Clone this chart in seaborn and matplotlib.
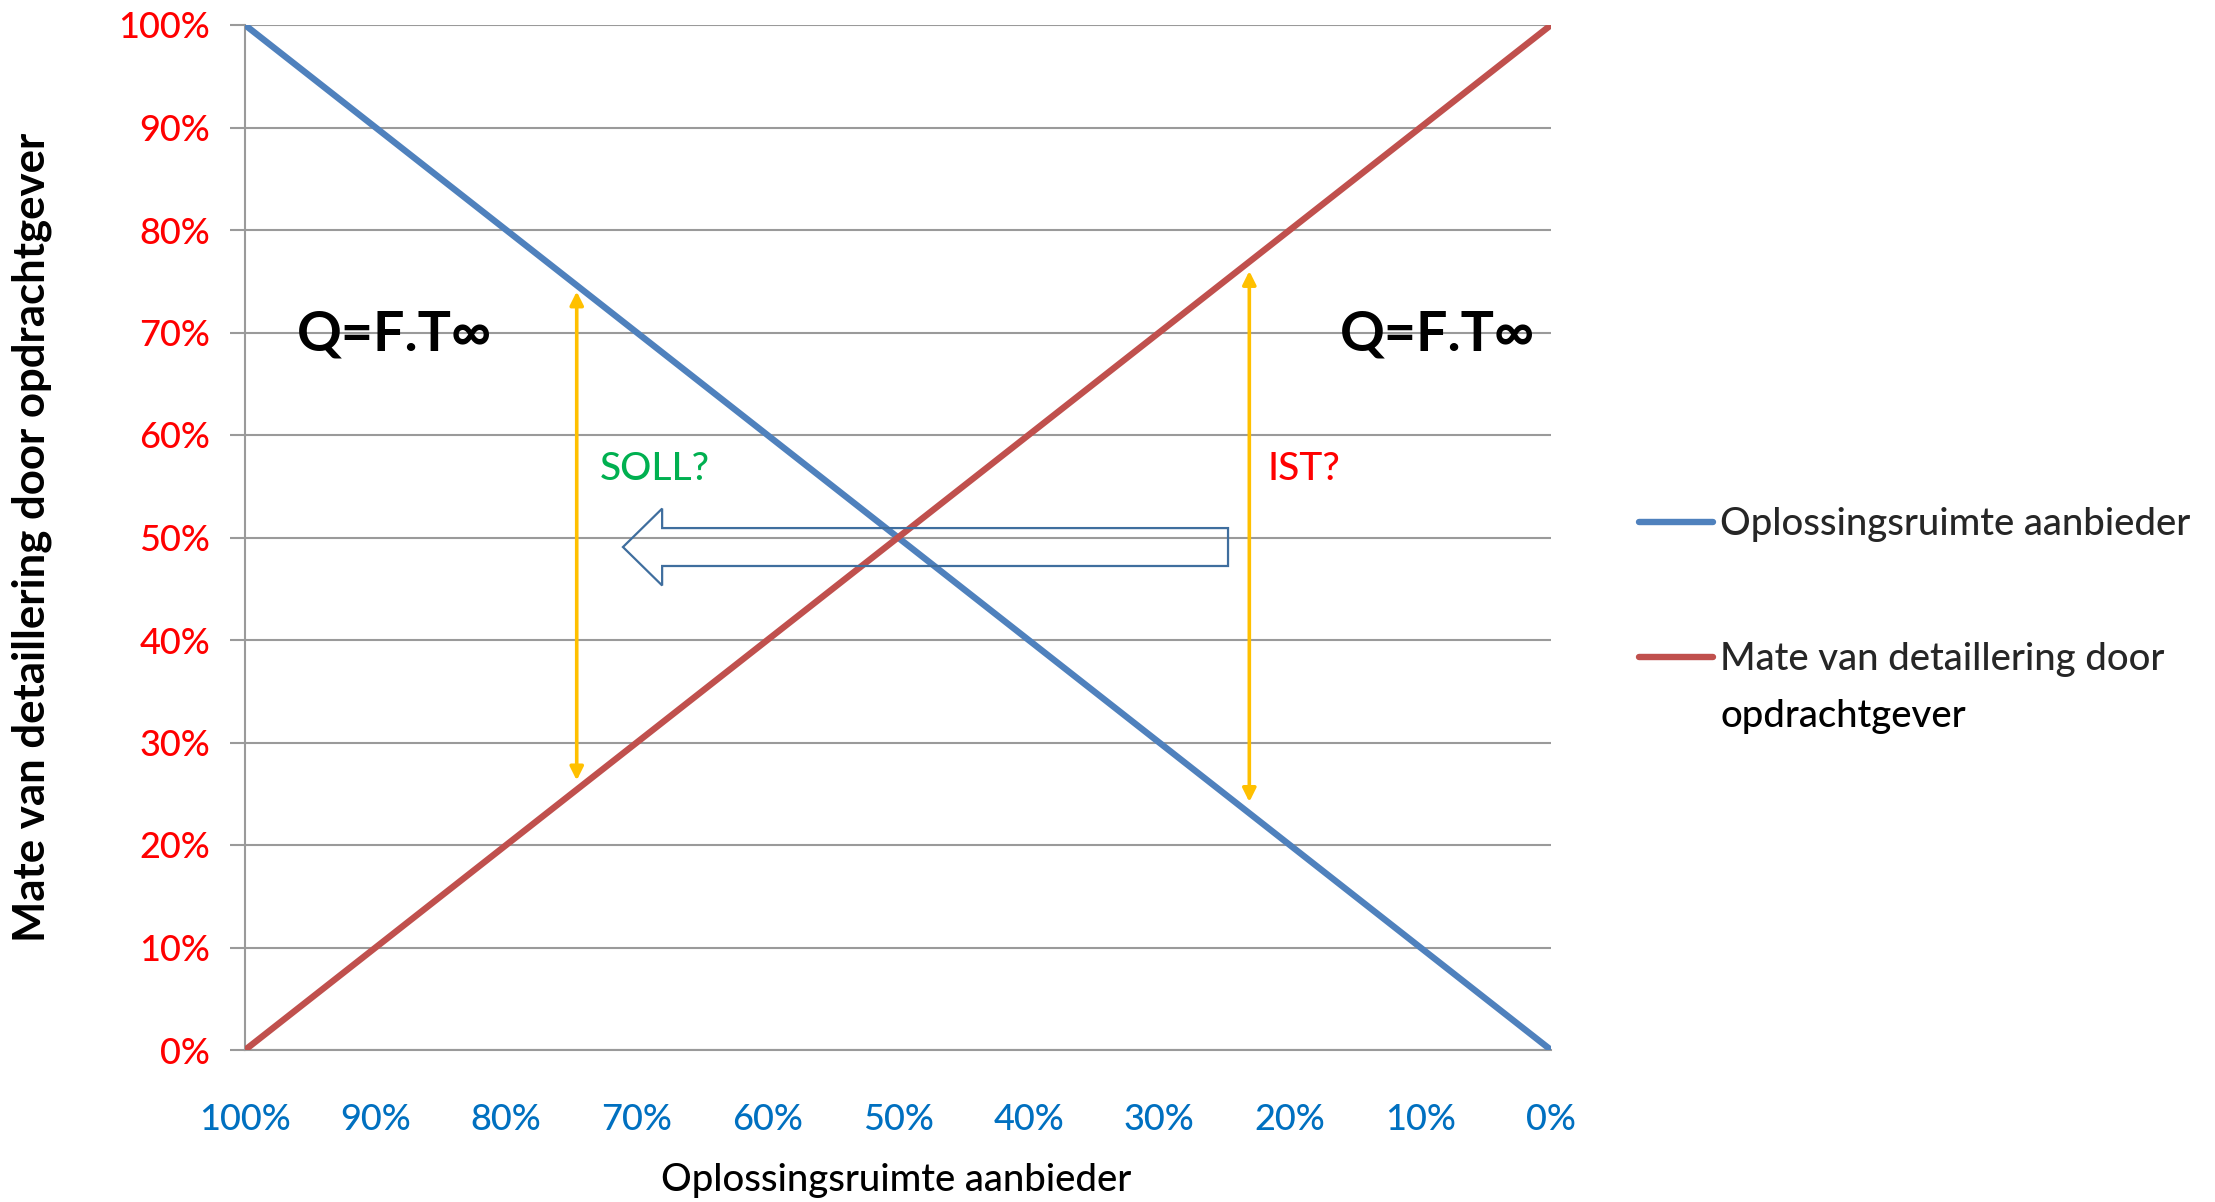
import matplotlib
matplotlib.use("Agg")
import matplotlib.pyplot as plt
from matplotlib.patches import FancyArrow
import pandas as pd
import seaborn as sns

# Categories on the horizontal axis (solution space of the supplier)
categories = ["100%", "90%", "80%", "70%", "60%", "50%", "40%", "30%", "20%", "10%", "0%"]
# Series values in percent
oplossingsruimte = [100, 90, 80, 70, 60, 50, 40, 30, 20, 10, 0]
detaillering = [0, 10, 20, 30, 40, 50, 60, 70, 80, 90, 100]
series_names = ["Oplossingsruimte aanbieder", "Mate van detaillering door opdrachtgever"]
legend_lines = [["Oplossingsruimte aanbieder"], ["Mate van detaillering door", "opdrachtgever"]]
y_ticks = [0, 10, 20, 30, 40, 50, 60, 70, 80, 90, 100]

# Annotation ranges (category position, percent)
soll_range = (2.54, 26.3, 74.0)
ist_range = (7.69, 24.2, 76.0)

sns.set_theme(style="white")
plt.rcParams["font.family"] = ["Lato", "DejaVu Sans"]
TXT_W = "medium"

positions = list(range(len(categories)))
df = pd.DataFrame({
    "pos": positions * 2,
    "value": oplossingsruimte + detaillering,
    "serie": [series_names[0]] * len(categories) + [series_names[1]] * len(categories),
})

W, H = 2215, 1202
fig = plt.figure(figsize=(W / 100, H / 100), dpi=100)
ax = fig.add_axes([245 / W, 1 - 1050 / H, 1306 / W, 1025 / H])

palette = {series_names[0]: "#4F81BD", series_names[1]: "#C0504D"}
sns.lineplot(data=df, x="pos", y="value", hue="serie", hue_order=series_names,
             palette=palette, linewidth=4.6, ax=ax, zorder=3)
for ln in ax.lines:
    ln.set_solid_capstyle("round")

grid_col = "#9A9A9A"
ax.set_xlim(0, len(categories) - 1)
ax.set_ylim(0, 100)
ax.set_xticks(positions)
ax.set_xticklabels(categories, fontweight=TXT_W)
ax.set_yticks(y_ticks)
ax.set_yticklabels([f"{v}%" for v in y_ticks], fontweight=TXT_W)
ax.yaxis.grid(True, color=grid_col, linewidth=1.5)
ax.xaxis.grid(False)
ax.set_axisbelow(True)
for side in ("top", "right"):
    ax.spines[side].set_visible(False)
for side in ("left", "bottom"):
    ax.spines[side].set_color(grid_col)
    ax.spines[side].set_linewidth(1.5)

ax.tick_params(axis="y", left=True, length=11, width=1.5, color=grid_col,
               labelcolor="#FF0000", labelsize=26, pad=14)
ax.tick_params(axis="x", bottom=False, length=0, labelcolor="#0070C0",
               labelsize=26, pad=38)

ax.set_xlabel("Oplossingsruimte aanbieder", fontsize=27.5, color="black",
              fontweight=TXT_W)
ax.xaxis.set_label_coords(0.4985, -0.127)
ax.xaxis.label.set_verticalalignment("center")
ax.set_ylabel("Mate van detaillering door opdrachtgever", fontsize=31.5,
              fontweight="bold", color="black")
ax.yaxis.set_label_coords(-0.163, 0.5)
ax.yaxis.label.set_verticalalignment("center")

# Legend outside on the right
handles, _ = ax.get_legend_handles_labels()
ax.get_legend().remove()
leg = ax.legend(handles, [lines[0] for lines in legend_lines],
                loc="upper left", bbox_to_anchor=(1639 / W, 1 - 507 / H),
                bbox_transform=fig.transFigure, frameon=False,
                prop={"size": 27.5, "weight": TXT_W},
                handlelength=1.95, handletextpad=0.18, labelspacing=2.62,
                borderpad=0, borderaxespad=0)
for lh in leg.get_lines():
    lh.set_linewidth(4.6)
    lh.set_solid_capstyle("round")
# Continuation line of the second legend label
ax.annotate(legend_lines[1][1], xy=(0, 0), xycoords=leg.get_texts()[1],
            xytext=(0, -16), textcoords="offset points", ha="left", va="top",
            fontsize=27.5, fontweight=TXT_W, color="black", zorder=10,
            annotation_clip=False)

# Formula labels
for xpos in (0.40, 8.38):
    ax.text(xpos, 68.2, "Q=F.T∞", fontsize=40, fontweight="bold",
            color="black", va="baseline", zorder=5)

# Double-headed range arrows
for xr, lo, hi in (soll_range, ist_range):
    ax.annotate("", xy=(xr, hi), xytext=(xr, lo),
                arrowprops=dict(arrowstyle="<|-|>", color="#FFC000", lw=2.6,
                                mutation_scale=20, shrinkA=0, shrinkB=0),
                zorder=4)

ax.text(2.72, 55.6, "SOLL?", color="#00B050", fontsize=28, va="baseline",
        fontweight=TXT_W)
ax.text(7.83, 55.6, "IST?", color="#FF0000", fontsize=28, va="baseline",
        fontweight=TXT_W)

# Hollow block arrow pointing left
ax.add_patch(FancyArrow(7.527, 49.07, -4.633, 0, width=3.7, head_width=7.5,
                        head_length=0.30, length_includes_head=True,
                        fill=False, edgecolor="#3F6E9E", linewidth=1.6,
                        zorder=6))

fig.savefig("out.png", dpi=100, facecolor="white")
